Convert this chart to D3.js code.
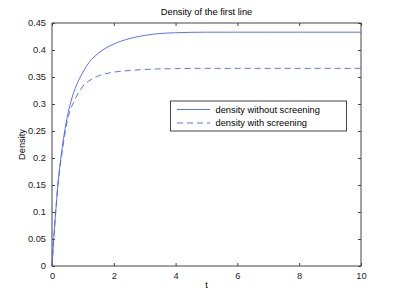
<!DOCTYPE html>
<html>
<head>
<meta charset="utf-8">
<script src="https://cdn.jsdelivr.net/npm/d3@7"></script>
<style>
    body { margin: 0; background: #fff; }
    svg { display: block; font-family: "Liberation Sans", Arial, sans-serif; }
    .axis text { font-size: 9.3px; fill: #222; }
    .axis line { stroke: #444; }
    .axis path { display: none; }
</style>
</head>
<body>
<div id="chart"></div>
<script>
// Values
const tSolid = [0, 0.05, 0.1, 0.2, 0.3, 0.4, 0.5, 0.6, 0.7, 0.8, 0.9, 1.0, 1.2, 1.5, 2.0, 2.5, 3.0, 3.5, 4, 5, 6, 7, 8, 9, 10];
const densityWithout = [0, 0.045, 0.085, 0.156, 0.206, 0.246, 0.278, 0.302, 0.321, 0.336, 0.348, 0.359, 0.377, 0.394, 0.411, 0.421, 0.427, 0.4305, 0.432, 0.433, 0.433, 0.433, 0.433, 0.433, 0.433];

const tDashed = [0, 0.05, 0.1, 0.2, 0.3, 0.4, 0.5, 0.6, 0.7, 0.8, 0.9, 1.0, 1.2, 1.5, 2.0, 2.5, 3.0, 4, 5, 6, 7, 8, 9, 10];
const densityWith = [0, 0.045, 0.085, 0.155, 0.200, 0.238, 0.270, 0.290, 0.303, 0.315, 0.325, 0.333, 0.343, 0.352, 0.359, 0.362, 0.364, 0.3655, 0.366, 0.366, 0.366, 0.366, 0.366, 0.366];

const xTicks = [0, 2, 4, 6, 8, 10];
const yTicks = [0, 0.05, 0.1, 0.15, 0.2, 0.25, 0.3, 0.35, 0.4, 0.45];
const seriesNames = ["density without screening", "density with screening"];

const W = 398, H = 300;
const plot = { left: 52, right: 361, top: 23, bottom: 266 };
const blue = "#4a60ff";

const svg = d3.select("#chart").append("svg")
    .attr("width", W)
    .attr("height", H);

const x = d3.scaleLinear().domain([0, 10]).range([plot.left, plot.right]);
const y = d3.scaleLinear().domain([0, 0.45]).range([plot.bottom, plot.top]);

// Inward ticks on all four sides
svg.append("g")
    .attr("class", "axis")
    .attr("transform", `translate(0,${plot.bottom})`)
    .call(d3.axisBottom(x).tickValues(xTicks).tickSize(-3).tickPadding(6).tickFormat(d3.format("~g")));

svg.append("g")
    .attr("class", "axis")
    .attr("transform", `translate(0,${plot.top})`)
    .call(d3.axisTop(x).tickValues(xTicks).tickSize(-3).tickFormat(""));

svg.append("g")
    .attr("class", "axis")
    .attr("transform", `translate(${plot.left},0)`)
    .call(d3.axisLeft(y).tickValues(yTicks).tickSize(-3).tickPadding(6).tickFormat(d3.format("~g")));

svg.append("g")
    .attr("class", "axis")
    .attr("transform", `translate(${plot.right},0)`)
    .call(d3.axisRight(y).tickValues(yTicks).tickSize(-3).tickFormat(""));

// Box
svg.append("rect")
    .attr("x", plot.left)
    .attr("y", plot.top)
    .attr("width", plot.right - plot.left)
    .attr("height", plot.bottom - plot.top)
    .attr("fill", "none")
    .attr("stroke", "#444")
    .attr("stroke-width", 1);

// Lines
const line = d3.line()
    .x(d => x(d[0]))
    .y(d => y(d[1]))
    .curve(d3.curveMonotoneX);

svg.append("path")
    .datum(tSolid.map((t, i) => [t, densityWithout[i]]))
    .attr("fill", "none")
    .attr("stroke", blue)
    .attr("stroke-width", 0.9)
    .attr("d", line);

svg.append("path")
    .datum(tDashed.map((t, i) => [t, densityWith[i]]))
    .attr("fill", "none")
    .attr("stroke", blue)
    .attr("stroke-width", 0.9)
    .attr("stroke-dasharray", "6,4")
    .attr("d", line);

// Title and axis labels
svg.append("text")
    .attr("x", (plot.left + plot.right) / 2)
    .attr("y", 15)
    .attr("text-anchor", "middle")
    .style("font-size", "9.3px")
    .text("Density of the first line");

svg.append("text")
    .attr("x", (plot.left + plot.right) / 2)
    .attr("y", 288)
    .attr("text-anchor", "middle")
    .style("font-size", "9.3px")
    .text("t");

svg.append("text")
    .attr("transform", `translate(25,${(plot.top + plot.bottom) / 2}) rotate(-90)`)
    .attr("text-anchor", "middle")
    .style("font-size", "9.3px")
    .text("Density");

// Legend
const legend = svg.append("g").attr("transform", "translate(170.5,101)");
legend.append("rect")
    .attr("width", 176)
    .attr("height", 30)
    .attr("fill", "#fff")
    .attr("stroke", "#444");

seriesNames.forEach((name, i) => {
    const ly = 8.5 + i * 13.5;
    const sample = legend.append("line")
        .attr("x1", 6.5).attr("x2", 39.5)
        .attr("y1", ly).attr("y2", ly)
        .style("stroke", blue)
        .style("stroke-width", 0.9);
    if (i === 1) sample.style("stroke-dasharray", "6,4");
    legend.append("text")
        .attr("x", 45)
        .attr("y", ly + 3.3)
        .style("font-size", "9.3px")
        .text(name);
});
</script>
</body>
</html>
